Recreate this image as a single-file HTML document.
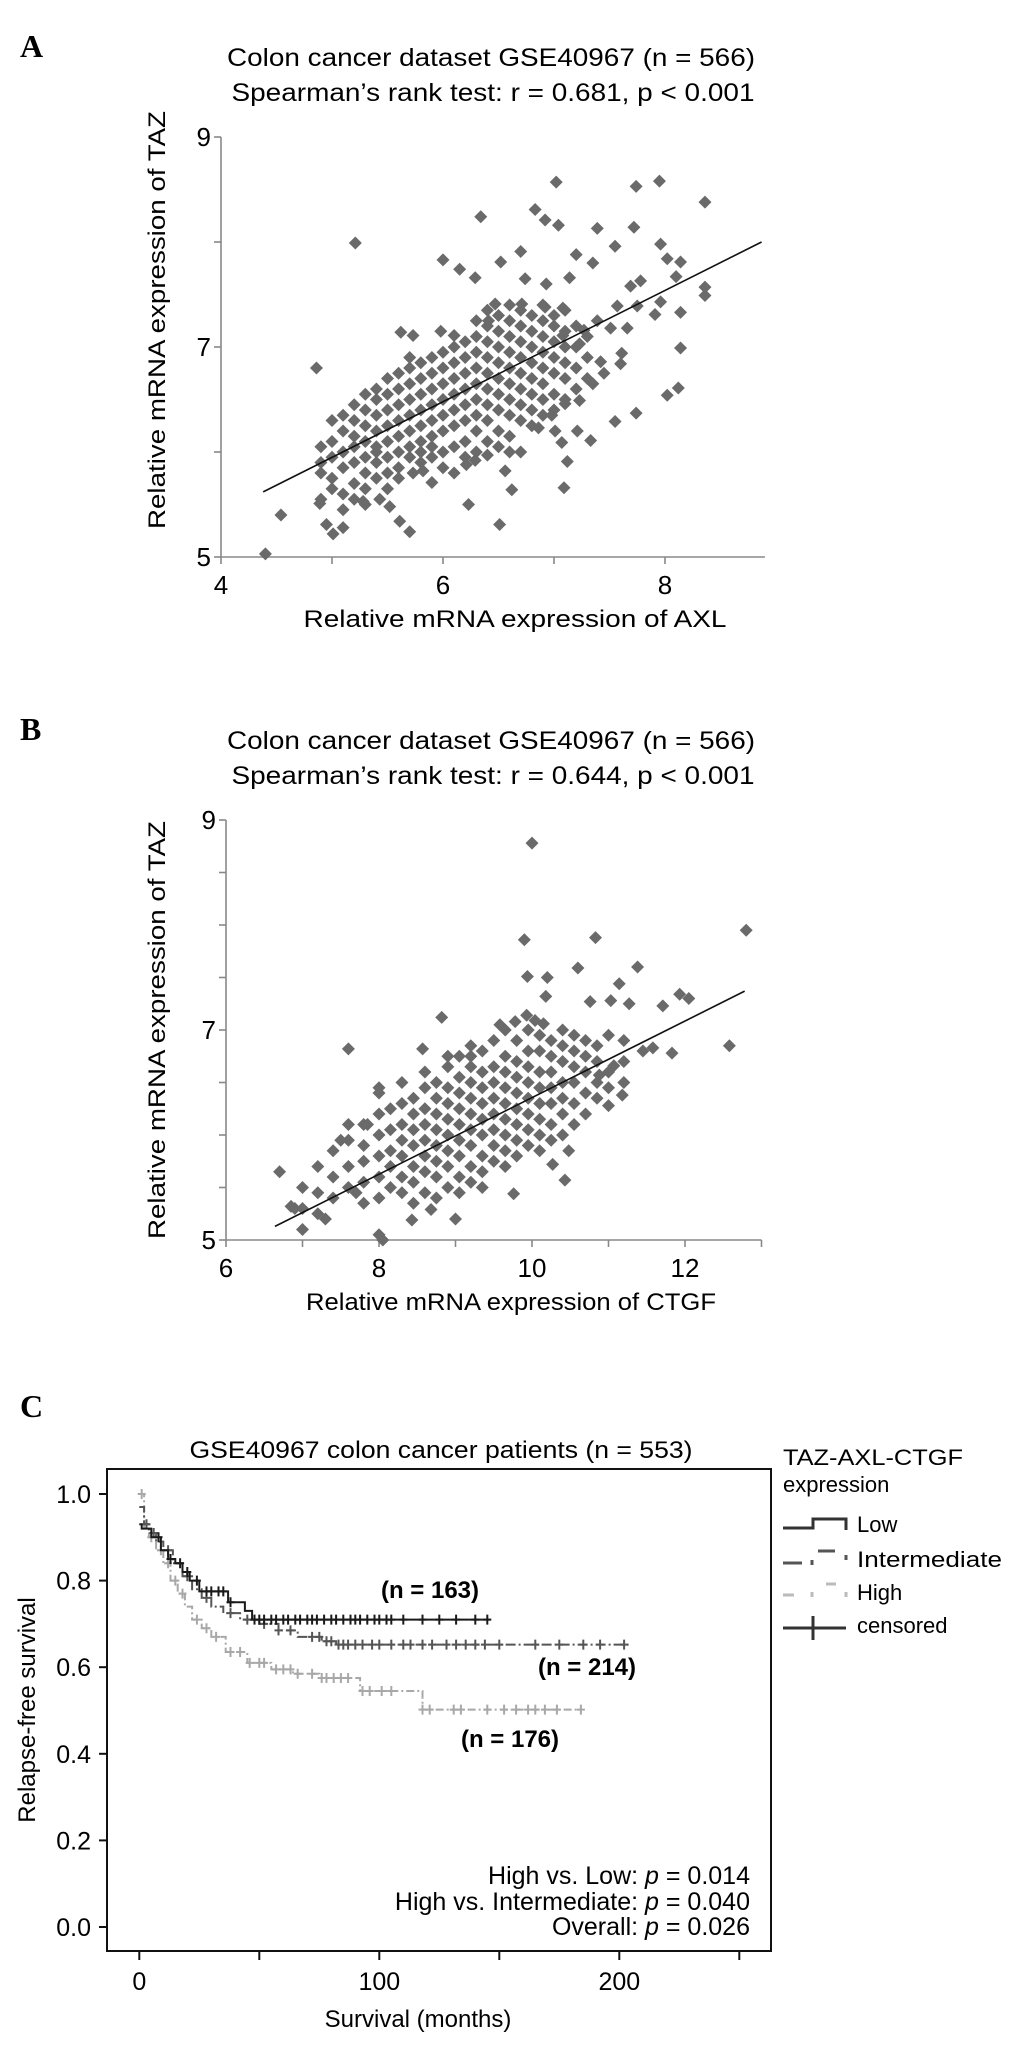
<!DOCTYPE html>
<html><head><meta charset="utf-8"><style>
html,body{margin:0;padding:0;background:#fff;}
svg{display:block;font-family:"Liberation Sans",Arial,sans-serif;}
</style></head><body>
<svg id="fig" width="1033" height="2047" viewBox="0 0 1033 2047" xmlns="http://www.w3.org/2000/svg">
<rect x="0" y="0" width="1033" height="2047" fill="#fff"/>
<!-- Panel A static text -->
<text x="20" y="57" font-family="Liberation Serif,serif" font-weight="bold" font-size="32">A</text>
<text x="491" y="66" text-anchor="middle" font-size="25" textLength="528" lengthAdjust="spacingAndGlyphs">Colon cancer dataset GSE40967 (n = 566)</text>
<text x="493" y="101" text-anchor="middle" font-size="25" textLength="523" lengthAdjust="spacingAndGlyphs">Spearman’s rank test: r = 0.681, p &lt; 0.001</text>
<text x="515" y="627" text-anchor="middle" font-size="24" textLength="423" lengthAdjust="spacingAndGlyphs">Relative mRNA expression of AXL</text>
<text transform="translate(165,320) rotate(-90)" text-anchor="middle" font-size="24" textLength="418" lengthAdjust="spacingAndGlyphs">Relative mRNA expression of TAZ</text>
<g id="gA"></g>
<!-- Panel B -->
<text x="20" y="740" font-family="Liberation Serif,serif" font-weight="bold" font-size="32">B</text>
<text x="491" y="749" text-anchor="middle" font-size="25" textLength="528" lengthAdjust="spacingAndGlyphs">Colon cancer dataset GSE40967 (n = 566)</text>
<text x="493" y="784" text-anchor="middle" font-size="25" textLength="523" lengthAdjust="spacingAndGlyphs">Spearman’s rank test: r = 0.644, p &lt; 0.001</text>
<text x="511" y="1310" text-anchor="middle" font-size="24" textLength="410" lengthAdjust="spacingAndGlyphs">Relative mRNA expression of CTGF</text>
<text transform="translate(165,1030) rotate(-90)" text-anchor="middle" font-size="24" textLength="418" lengthAdjust="spacingAndGlyphs">Relative mRNA expression of TAZ</text>
<g id="gB"></g>
<!-- Panel C -->
<text x="20" y="1417" font-family="Liberation Serif,serif" font-weight="bold" font-size="32">C</text>
<text x="441" y="1458" text-anchor="middle" font-size="24" textLength="503" lengthAdjust="spacingAndGlyphs">GSE40967 colon cancer patients (n = 553)</text>
<rect x="107" y="1469" width="664" height="482" fill="none" stroke="#111" stroke-width="2"/>
<text x="418" y="2027" text-anchor="middle" font-size="24">Survival (months)</text>
<text transform="translate(35,1710) rotate(-90)" text-anchor="middle" font-size="24">Relapse-free survival</text>
<g id="gC"></g>
<text x="430" y="1598" text-anchor="middle" font-size="24" font-weight="bold">(n = 163)</text>
<text x="587" y="1675" text-anchor="middle" font-size="24" font-weight="bold">(n = 214)</text>
<text x="510" y="1747" text-anchor="middle" font-size="24" font-weight="bold">(n = 176)</text>
<text x="750" y="1884" text-anchor="end" font-size="25">High vs. Low: <tspan font-style="italic">p</tspan> = 0.014</text>
<text x="750" y="1910" text-anchor="end" font-size="25">High vs. Intermediate: <tspan font-style="italic">p</tspan> = 0.040</text>
<text x="750" y="1935" text-anchor="end" font-size="25">Overall: <tspan font-style="italic">p</tspan> = 0.026</text>
<!-- Legend -->
<g>
<text x="783" y="1465" font-size="22" textLength="180" lengthAdjust="spacingAndGlyphs">TAZ-AXL-CTGF</text>
<text x="783" y="1492" font-size="22">expression</text>
<path d="M783,1528 H813 V1519 H846 V1530" fill="none" stroke="#333" stroke-width="3"/>
<text x="857" y="1532" font-size="22">Low</text>
<path d="M783,1563 H802 M812,1560 V1565 M818,1551 H835 M846,1555 V1560" fill="none" stroke="#555" stroke-width="3"/>
<text x="857" y="1567" font-size="22" textLength="145" lengthAdjust="spacingAndGlyphs">Intermediate</text>
<path d="M783,1595 H794 M812,1592 V1597 M826,1584 H836 M846,1592 V1597" fill="none" stroke="#bbb" stroke-width="3"/>
<text x="857" y="1600" font-size="22">High</text>
<path d="M783,1628 H846 M813,1616 V1640" fill="none" stroke="#333" stroke-width="3"/>
<text x="857" y="1633" font-size="22">censored</text>
</g>
</svg>
<script>
// ---------- Panel A data ----------
var aXTicks = [4, 6, 8];
var aYTicks = [5, 7, 9];
var aColumns = [
[4.9,[5.55,5.8,5.9,6.05]],[5.0,[5.65,5.75,5.95,6.1,6.3]],[5.1,[5.6,5.85,6.0,6.2,6.35,5.45]],
[5.2,[5.7,5.9,6.05,6.15,6.3,6.45,5.55]],[5.3,[5.65,5.8,5.95,6.1,6.25,6.4,6.55,5.5]],
[5.4,[5.75,5.9,6.0,6.2,6.35,6.5,6.6,6.05]],[5.5,[5.8,5.95,6.1,6.25,6.4,6.55,6.7,5.65]],
[5.6,[5.85,6.0,6.15,6.3,6.45,6.6,6.75,5.75]],[5.7,[5.95,6.05,6.2,6.35,6.5,6.65,6.8,6.9]],
[5.8,[5.9,6.1,6.25,6.4,6.55,6.7,6.85,6.0]],[5.9,[5.95,6.15,6.3,6.45,6.6,6.75,6.9,6.05]],
[6.0,[6.0,6.2,6.35,6.5,6.65,6.8,6.95,5.85]],[6.1,[5.8,6.05,6.25,6.4,6.55,6.7,6.85,7.0]],
[6.2,[6.1,6.3,6.45,6.6,6.75,6.9,5.95,7.05]],[6.3,[6.0,6.2,6.35,6.5,6.65,6.8,6.95,7.1,7.25]],
[6.4,[6.1,6.3,6.45,6.6,6.75,6.9,7.05,7.2,7.35]],[6.5,[6.2,6.4,6.55,6.7,6.85,7.0,7.15,7.3,6.05]],
[6.6,[6.15,6.35,6.5,6.65,6.8,6.95,7.1,7.25,7.4]],[6.7,[6.3,6.45,6.6,6.75,6.9,7.05,7.2,7.35]],
[6.8,[6.25,6.4,6.55,6.7,6.85,7.0,7.15,7.3]],[6.9,[6.35,6.5,6.65,6.8,6.95,7.1,7.25,7.4]],
[7.0,[6.4,6.55,6.75,6.9,7.05,7.2,7.3]],[7.1,[6.5,6.7,6.85,7.0,7.15,7.35]],
[7.2,[6.6,6.8,7.0,7.2]],[7.3,[6.7,6.9,7.1]]
];
var aOutliers = [
[7.02,8.57],[7.74,8.53],[7.95,8.58],[8.36,8.38],[5.21,7.99],[6.34,8.24],[6.83,8.31],[6.92,8.21],[7.04,8.16],
[7.39,8.13],[7.72,8.14],[7.55,7.96],[7.96,7.98],[6.0,7.83],[6.15,7.74],[6.29,7.66],[6.52,7.81],[6.70,7.91],
[7.2,7.88],[7.35,7.8],[8.02,7.84],[8.14,7.81],[6.74,7.65],[6.93,7.6],[7.14,7.66],[7.69,7.58],[7.78,7.63],
[8.1,7.67],[8.36,7.57],[8.36,7.49],[7.96,7.43],[8.14,7.33],[7.91,7.31],[7.57,7.39],[7.75,7.39],[4.86,6.8],
[5.62,7.14],[5.73,7.11],[5.98,7.15],[6.1,7.11],[8.14,6.99],[8.02,6.54],[8.12,6.61],[7.74,6.37],[7.55,6.29],
[7.33,6.11],[7.21,6.2],[7.12,5.91],[7.09,5.66],[6.23,5.5],[6.51,5.31],[6.62,5.64],[6.56,5.82],[4.54,5.4],
[4.4,5.03],[4.95,5.31],[5.01,5.22],[5.1,5.28],[4.89,5.51],[5.28,5.53],[5.43,5.55],[5.52,5.48],[5.61,5.34],
[5.7,5.24],[5.9,5.71],[5.73,5.8],[5.82,5.82],[6.21,5.88],[6.29,5.92],[6.4,5.97],[6.7,6.0],[6.6,6.0],
[6.86,6.23],[7.01,6.2],[7.07,6.09],[6.98,6.35],[7.1,6.46],[7.23,6.49],[7.45,6.75],[7.6,6.84],[7.42,6.86],
[7.35,6.65],[7.61,6.94],[7.51,7.18],[7.66,7.18],[7.39,7.25],[7.27,7.16],[7.23,7.03],[7.08,7.11],[6.41,7.25],
[6.71,7.41],[6.47,7.41],[6.92,7.38],[7.08,7.37]
];
var aLine = [[4.38,5.62],[8.87,8.0]];
// ---------- Panel B data ----------
var bXTicks = [6, 8, 10, 12];
var bYTicks = [5, 7, 9];
var bColumns = [
[7.0,[5.3,5.5]],[7.2,[5.45,5.7,5.25]],[7.4,[5.4,5.6,5.85]],[7.6,[5.5,5.7,5.95,6.1]],
[7.8,[5.35,5.55,5.75,5.9,6.1]],[8.0,[5.4,5.6,5.8,6.0,6.2,6.4]],[8.15,[5.5,5.7,5.85,6.05,6.25]],
[8.3,[5.45,5.6,5.8,5.95,6.1,6.3,6.5]],[8.45,[5.55,5.7,5.9,6.05,6.2,6.35,5.35]],
[8.6,[5.45,5.65,5.8,5.95,6.1,6.25,6.45,6.6]],[8.75,[5.6,5.75,5.9,6.05,6.2,6.35,6.5,5.4]],
[8.9,[5.5,5.7,5.85,6.0,6.15,6.3,6.45,6.65]],[9.05,[5.6,5.8,5.95,6.1,6.25,6.4,6.55,6.75,5.45]],
[9.2,[5.55,5.7,5.9,6.05,6.2,6.35,6.5,6.65,6.85]],[9.35,[5.65,5.8,6.0,6.15,6.3,6.45,6.6,6.8,5.5]],
[9.5,[5.75,5.9,6.05,6.2,6.35,6.5,6.65,6.9]],[9.65,[5.7,5.85,6.0,6.15,6.3,6.45,6.6,6.75,7.0]],
[9.8,[5.8,5.95,6.1,6.25,6.4,6.55,6.7,6.9]],[9.95,[5.9,6.05,6.2,6.35,6.5,6.65,6.8,7.0]],
[10.1,[5.85,6.0,6.15,6.3,6.45,6.6,6.8,6.95]],[10.25,[5.95,6.1,6.3,6.45,6.6,6.75,6.9]],
[10.4,[6.0,6.2,6.35,6.5,6.7,6.85,7.0]],[10.55,[6.1,6.3,6.5,6.65,6.8,6.95]],
[10.7,[6.2,6.4,6.6,6.75,6.9]],[10.85,[6.35,6.5,6.7,6.85]],[11.0,[6.45,6.6,6.95]],[11.2,[6.5,6.7,6.9]]
];
var bOutliers = [
[10.0,8.78],[12.8,7.95],[9.9,7.86],[10.83,7.88],[10.6,7.59],[11.38,7.6],[9.94,7.51],[10.2,7.5],[10.18,7.32],
[11.14,7.44],[10.76,7.27],[11.03,7.28],[11.27,7.25],[11.71,7.23],[11.93,7.34],[12.05,7.3],[12.58,6.85],
[11.83,6.78],[11.58,6.83],[11.45,6.8],[8.82,7.12],[8.57,6.82],[8.9,6.75],[9.2,6.75],[9.58,7.05],[9.78,7.08],
[9.93,7.14],[10.04,7.09],[10.15,7.06],[10.43,5.57],[9.76,5.44],[9.0,5.2],[8.68,5.29],[8.43,5.19],[10.27,5.72],
[10.48,5.85],[11.0,6.28],[11.18,6.38],[10.88,6.57],[11.07,6.66],[7.6,6.82],[6.7,5.65],[6.9,5.3],[7.0,5.1],
[7.3,5.2],[8.0,5.05],[8.05,5.0],[7.7,5.45],[7.85,6.1],[7.5,5.95],[8.0,6.45],[6.85,5.32]
];
var bLine = [[6.64,5.13],[12.78,7.37]];
// ---------- Panel C data ----------
var cXTicks = [0, 50, 100, 150, 200, 250];
var cXLabels = ["0", "", "100", "", "200", ""];
var cYTicks = [0, 0.2, 0.4, 0.6, 0.8, 1.0];
var cYLabels = ["0.0", "0.2", "0.4", "0.6", "0.8", "1.0"];
var lowTimes = [0,1,5,9,12,15,18,21,25,37,44,47];
var lowSurv = [0.93,0.92,0.90,0.87,0.85,0.84,0.82,0.80,0.775,0.75,0.73,0.71];
var lowEnd = 146;
var lowCensor = [8,13,17,20,24,28,30,33,35,38,48,50,52,55,57,60,62,65,67,70,72,74,77,80,82,85,88,90,92,95,98,100,103,105,110,118,125,132,140,145];
var intTimes = [0,2,4,7,10,14,18,22,26,30,35,42,50,58,66,76,82];
var intSurv = [0.97,0.93,0.91,0.89,0.87,0.84,0.81,0.78,0.76,0.74,0.725,0.71,0.70,0.685,0.67,0.66,0.652];
var intEnd = 204;
var intCensor = [3,6,12,20,28,38,45,52,58,63,72,75,78,80,83,85,87,90,93,97,100,105,110,113,118,122,128,132,136,140,144,150,165,175,185,192,202];
var highTimes = [0,2,4,7,10,13,16,19,22,26,30,36,45,55,64,75,92,118];
var highSurv = [1.0,0.92,0.90,0.87,0.84,0.80,0.77,0.74,0.71,0.69,0.67,0.635,0.61,0.595,0.585,0.575,0.545,0.502];
var highEnd = 184.5;
var highCensor = [1,5,9,12,15,18,24,28,32,38,42,46,50,52,57,60,63,66,72,76,78,81,84,87,93,96,101,105,118,121,131,134,145,152,157,162,165,169,174,184];

var NS = "http://www.w3.org/2000/svg";
function mk(tag, attrs, parent) {
  var e = document.createElementNS(NS, tag);
  for (var k in attrs) e.setAttribute(k, attrs[k]);
  parent.appendChild(e);
  return e;
}

function scatter(g, cfg, cols, outs, line, xt, yt, minorY) {
  var sx = function (v) { return cfg.x0 + (v - cfg.xmin) * cfg.xu; };
  var sy = function (v) { return cfg.y0 - (v - cfg.ymin) * cfg.yu; };
  var ax = mk("path", {d: "M" + sx(cfg.xmin) + "," + sy(cfg.ymax) + " V" + sy(cfg.ymin) + " H" + sx(cfg.xmax), fill: "none", stroke: "#888", "stroke-width": 1.6}, g);
  
  
  for (var v = cfg.xmin; v <= cfg.xmax + 1e-9; v += 1) {
    var t = mk("line", {x1: sx(v), x2: sx(v), y1: sy(cfg.ymin), y2: sy(cfg.ymin) + 7, stroke: "#888", "stroke-width": 1.6}, g);
    
    
  }
  for (var v2 = cfg.ymin; v2 <= cfg.ymax + 1e-9; v2 += minorY) {
    var t2 = mk("line", {x1: sx(cfg.xmin) - 7, x2: sx(cfg.xmin), y1: sy(v2), y2: sy(v2), stroke: "#888", "stroke-width": 1.6}, g);
    
    
  }
  xt.forEach(function (v) {
    var tx = mk("text", {x: sx(v), y: sy(cfg.ymin) + 37, "text-anchor": "middle", "font-size": 26}, g);
    tx.textContent = v;
    
    
  });
  yt.forEach(function (v) {
    var ty = mk("text", {x: sx(cfg.xmin) - 10, y: sy(v) + 9, "text-anchor": "end", "font-size": 26}, g);
    ty.textContent = v;
    
    
  });
  var pts = [];
  cols.forEach(function (c) { c[1].forEach(function (y) { pts.push([c[0], y]); }); });
  outs.forEach(function (p) { pts.push(p); });
  var r = 6.5;
  pts.forEach(function (p) {
    var cx = sx(p[0]), cy = sy(p[1]);
    var d = mk("path", {d: "M" + cx + "," + (cy - r) + " L" + (cx + r) + "," + cy + " L" + cx + "," + (cy + r) + " L" + (cx - r) + "," + cy + "Z", fill: "#6a6a6a"}, g);
    
    
  });
  var ln = mk("line", {x1: sx(line[0][0]), y1: sy(line[0][1]), x2: sx(line[1][0]), y2: sy(line[1][1]), stroke: "#111", "stroke-width": 1.6}, g);
  
  
}

scatter(document.getElementById("gA"), {x0: 221, y0: 557, xmin: 4, xmax: 8.9, ymin: 5, ymax: 9, xu: 111, yu: 105},
  aColumns, aOutliers, aLine, aXTicks, aYTicks, 1);
scatter(document.getElementById("gB"), {x0: 226, y0: 1240, xmin: 6, xmax: 13, ymin: 5, ymax: 9, xu: 76.5, yu: 105},
  bColumns, bOutliers, bLine, bXTicks, bYTicks, 0.5);

// ---------- KM ----------
(function () {
  var g = document.getElementById("gC");
  var sx = function (t) { return 139.3 + t * 2.4; };
  var sy = function (s) { return 1927 - s * 433; };
  cXTicks.forEach(function (t, i) {
    var l = mk("line", {x1: sx(t), x2: sx(t), y1: 1951, y2: 1960, stroke: "#111", "stroke-width": 2}, g);
    
    
    if (cXLabels[i]) {
      var tx = mk("text", {x: sx(t), y: 1990, "text-anchor": "middle", "font-size": 25}, g);
      tx.textContent = cXLabels[i];
      
      
    }
  });
  cYTicks.forEach(function (s, i) {
    var l = mk("line", {x1: 99, x2: 107, y1: sy(s), y2: sy(s), stroke: "#111", "stroke-width": 2}, g);
    
    
    var ty = mk("text", {x: 91, y: sy(s) + 9, "text-anchor": "end", "font-size": 25}, g);
    ty.textContent = cYLabels[i];
    
    
  });
  function survAt(times, surv, t) {
    var v = surv[0];
    for (var i = 0; i < times.length; i++) if (times[i] <= t) v = surv[i];
    return v;
  }
  function curve(times, surv, end, cens, color, dash, name) {
    var d = "M" + sx(times[0]) + "," + sy(surv[0]);
    for (var i = 1; i < times.length; i++) {
      d += " H" + sx(times[i]) + " V" + sy(surv[i]);
    }
    d += " H" + sx(end);
    var p = mk("path", {d: d, fill: "none", stroke: color, "stroke-width": 2, "stroke-dasharray": dash}, g);
    
    
    cens.forEach(function (t) {
      var x = sx(t), y = sy(survAt(times, surv, t));
      var c = mk("path", {d: "M" + (x - 4) + "," + y + " H" + (x + 4) + " M" + x + "," + (y - 5) + " V" + (y + 5), stroke: color, "stroke-width": 2, fill: "none"}, g);
      
      
    });
  }
  curve(highTimes, highSurv, highEnd, highCensor, "#a8a8a8", "8,3,2,3", "high");
  curve(intTimes, intSurv, intEnd, intCensor, "#555", "10,3,2,3", "intermediate");
  curve(lowTimes, lowSurv, lowEnd, lowCensor, "#1a1a1a", "none", "low");
})();
</script>
</body></html>
